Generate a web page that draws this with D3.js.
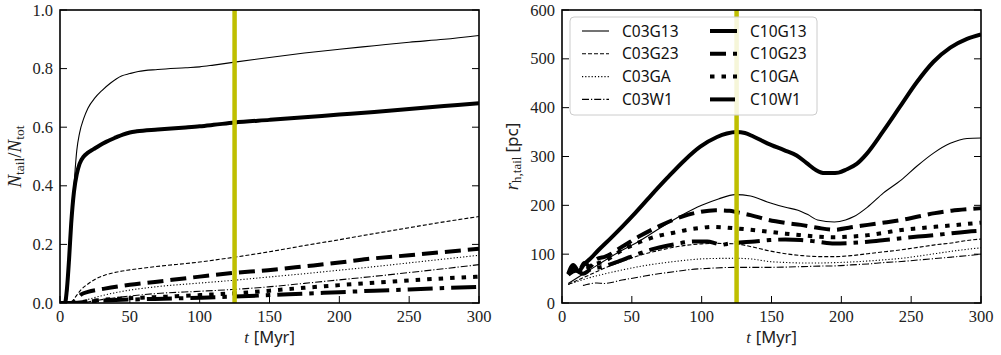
<!DOCTYPE html>
<html>
<head>
<meta charset="utf-8">
<script src="https://cdn.jsdelivr.net/npm/d3@7/dist/d3.min.js"></script>
<style>
  body { margin: 0; background: #fff; }
  .tick-label { font-family: "Liberation Serif", serif; font-size: 16.5px; fill: #222; }
  .leg-text { font-family: "Noto Sans", sans-serif; font-size: 15.5px; fill: #111; }
</style>
</head>
<body>
<div id="chart"></div>
<script>
// models, in legend order
var models = ["C03G13", "C03G23", "C03GA", "C03W1", "C10G13", "C10G23", "C10GA", "C10W1"];

// left panel: N_tail / N_tot against t [Myr]
var frac_C03G13 = [[0,0],[4.5,0],[6,0.08],[8,0.25],[10,0.4],[12,0.52],[14,0.58],[17,0.63],[20,0.665],[25,0.7],[30,0.725],[36,0.75],[44,0.775],[50,0.783],[56,0.79],[70,0.797],[90,0.803],[100,0.806],[110,0.812],[125,0.822],[150,0.838],[175,0.853],[200,0.866],[225,0.878],[250,0.89],[275,0.9],[300,0.913]];
var frac_C03G23 = [[0,0],[8,0],[11,0.02],[15,0.045],[20,0.065],[26,0.083],[32,0.095],[40,0.105],[50,0.113],[68,0.124],[100,0.14],[123,0.155],[150,0.175],[175,0.196],[200,0.216],[225,0.237],[250,0.257],[275,0.277],[300,0.295]];
var frac_C03GA  = [[0,0],[12,0],[20,0.012],[30,0.025],[45,0.04],[68,0.055],[100,0.068],[123,0.077],[150,0.089],[175,0.1],[200,0.112],[225,0.124],[250,0.137],[275,0.15],[300,0.163]];
var frac_C03W1  = [[0,0],[15,0],[25,0.008],[40,0.018],[68,0.032],[100,0.04],[123,0.046],[149,0.055],[175,0.067],[200,0.079],[225,0.091],[250,0.104],[275,0.117],[300,0.131]];
var frac_C10G13 = [[0,0],[3.5,0],[5,0.05],[6.5,0.15],[8,0.27],[10,0.38],[12,0.44],[14,0.475],[17,0.5],[20,0.513],[24,0.525],[28,0.537],[33,0.55],[40,0.565],[45,0.575],[50,0.582],[55,0.586],[70,0.592],[90,0.599],[100,0.603],[110,0.608],[125,0.616],[150,0.625],[175,0.634],[200,0.643],[225,0.652],[250,0.662],[275,0.672],[300,0.682]];
var frac_C10G23 = [[0,0],[8,0],[12,0.015],[15.5,0.03],[20,0.038],[32,0.049],[50,0.062],[68,0.072],[100,0.09],[123,0.102],[149,0.112],[175,0.125],[200,0.138],[220,0.15],[250,0.163],[275,0.174],[300,0.185]];
var frac_C10GA  = [[0,0],[10,0],[20,0.006],[40,0.014],[68,0.02],[100,0.027],[125,0.033],[150,0.042],[175,0.052],[200,0.061],[225,0.069],[250,0.077],[275,0.084],[300,0.09]];
var frac_C10W1  = [[0,0],[10,0],[20,0.005],[40,0.01],[68,0.014],[100,0.018],[125,0.022],[150,0.027],[175,0.032],[200,0.037],[225,0.042],[250,0.046],[275,0.051],[300,0.055]];

// right panel: r_h,tail [pc] against t [Myr]
var rh_C03G13 = [[4.5,40],[20,68],[43,108],[55,126],[70,153],[86,180],[100,200],[112,213],[124,222],[135,219],[147,207],[160,196],[169,190],[176,181],[183,170],[195,166],[203,170],[209,177],[219,197],[230,225],[243,252],[254,280],[266,307],[278,327],[290,337],[300,338]];
var rh_C03G23 = [[4.5,38],[20,58],[31,72],[43,85],[55,97],[70,108],[86,117],[100,121],[112,122],[124,121],[136,115],[148,107],[160,101],[172,97],[184,95],[195,95],[207,97],[219,101],[231,105],[243,109],[255,114],[267,119],[279,123],[290,128],[300,131]];
var rh_C03GA  = [[4.5,38],[20,52],[43,67.6],[60,77],[75,83],[90,88],[105,91],[124,91.5],[136,90],[148,85],[160,83],[172,82],[184,82],[195,82.6],[207,84],[219,86],[231,88.5],[243,91.5],[255,96],[267,101],[279,106],[290,110],[300,113]];
var rh_C03W1  = [[15,36],[16.5,37],[25,41],[30,40],[43,47],[55,53],[67,59],[80,64],[90,68],[105,71],[124,73],[136,73],[148,73],[160,73.5],[172,74.5],[184,75.5],[195,76],[207,78],[219,80],[231,83],[243,85],[255,88],[267,91],[279,94],[290,97],[300,100]];
var rh_C10G13 = [[4.5,58],[8,72],[12,66],[16,80],[20,90],[26,108],[35,133],[43,156],[51,180],[63,218],[75,255],[88,293],[99,320],[111,340],[118,347],[125,350],[131,348],[137,341],[147,327],[159,313],[168,302],[175,287],[182,272],[188,266],[193,266],[198,267],[204,274],[211,285],[218,305],[230,352],[242,402],[254,452],[266,494],[278,523],[290,541],[300,550]];
var rh_C10G23 = [[4.5,60],[8,78],[12,65],[16,82],[20,75],[25,90],[31,95],[43,115],[55,136],[70,158],[86,177],[98,186],[110,190],[120,189],[125,186],[135,180],[148,170],[160,164],[171,160],[183,154],[195,150],[207,155],[219,160],[231,165],[243,170],[255,177],[267,184],[279,189],[290,192],[300,194]];
var rh_C10GA  = [[4.5,60],[10,70],[15,62],[20,75],[30,85],[43,108],[55,124],[67,136],[80,144],[90,150],[100,154],[107,156],[115,155],[124,153],[135,150],[148,146],[160,142],[171,139],[183,136],[195,134.5],[207,136],[219,139],[231,144],[243,149.5],[255,153],[267,156],[279,159],[290,162],[300,164.5]];
var rh_C10W1  = [[4.5,58],[10,66],[15,60],[20,68],[30,75],[43,88],[55,101],[67,112],[80,120],[95,126],[104,126],[110,122],[114,119],[118,121],[124,123],[138,126],[149,129],[160,130],[171,129],[183,125.6],[195,122],[207,123],[219,125.6],[231,129],[243,132.5],[255,136],[267,139],[279,143],[290,146],[300,148]];

// axis ticks
var tTicks = [0, 50, 100, 150, 200, 250, 300];
var fracTicks = [0.0, 0.2, 0.4, 0.6, 0.8, 1.0];
var rhTicks = [0, 100, 200, 300, 400, 500, 600];

// time of the marked snapshot
var markTime = 125;

var fracSeries = [frac_C03G13, frac_C03G23, frac_C03GA, frac_C03W1, frac_C10G13, frac_C10G23, frac_C10GA, frac_C10W1];
var rhSeries = [rh_C03G13, rh_C03G23, rh_C03GA, rh_C03W1, rh_C10G13, rh_C10G23, rh_C10GA, rh_C10W1];

// line style from model name: C03 thin / C10 thick, tidal model sets the dash
function lineStyle(name) {
    var thick = name.indexOf("C10") === 0;
    var kind = name.slice(3);
    var dash;
    if (kind === "G13") dash = null;
    else if (kind === "G23") dash = thick ? "16,7" : "4,2";
    else if (kind === "GA") dash = thick ? "4.5,7" : "1.2,2";
    else dash = thick ? "25,7,4.5,7" : "7,2,1.2,2";
    return { width: thick ? 4 : 1.1, dash: dash };
}

var W = 1001, H = 355;
var svg = d3.select("#chart").append("svg")
    .attr("width", W)
    .attr("height", H);

function drawPanel(opts) {
    var left = opts.left, right = opts.right, top = 10, bottom = 303;

    var x = d3.scaleLinear().domain([0, 300]).range([left, right]);
    var y = d3.scaleLinear().domain(opts.yDomain).range([bottom, top]);

    var clipId = "clip-" + opts.id;
    svg.append("clipPath").attr("id", clipId)
        .append("rect")
        .attr("x", left).attr("y", top)
        .attr("width", right - left).attr("height", bottom - top);

    var g = svg.append("g");

    // curves
    var line = d3.line()
        .x(function(d) { return x(d[0]); })
        .y(function(d) { return y(d[1]); })
        .curve(d3.curveMonotoneX);

    var lines = g.append("g").attr("clip-path", "url(#" + clipId + ")");
    opts.series.forEach(function(s, i) {
        var st = lineStyle(models[i]);
        lines.append("path")
            .attr("d", line(s))
            .attr("fill", "none")
            .attr("stroke", "#000")
            .attr("stroke-width", st.width)
            .attr("stroke-linejoin", "round")
            .attr("stroke-dasharray", st.dash);
    });

    // vertical marker
    g.append("line")
        .attr("x1", x(markTime)).attr("x2", x(markTime))
        .attr("y1", top).attr("y2", bottom)
        .attr("stroke", "#bfbf00")
        .attr("stroke-width", 4.5);

    // inward ticks: bottom, left, right
    var tk = g.append("g").attr("stroke", "#000").attr("stroke-width", 1);
    tTicks.forEach(function(t) {
        tk.append("line").attr("x1", x(t)).attr("x2", x(t)).attr("y1", bottom).attr("y2", bottom - 7);
    });
    opts.yTicks.forEach(function(v) {
        tk.append("line").attr("x1", left).attr("x2", left + 7).attr("y1", y(v)).attr("y2", y(v));
        tk.append("line").attr("x1", right).attr("x2", right - 7).attr("y1", y(v)).attr("y2", y(v));
    });

    // frame
    g.append("rect")
        .attr("x", left).attr("y", top)
        .attr("width", right - left).attr("height", bottom - top)
        .attr("fill", "none")
        .attr("stroke", "#000")
        .attr("stroke-width", 1.6);

    // tick labels
    tTicks.forEach(function(t) {
        g.append("text").attr("class", "tick-label")
            .attr("x", x(t)).attr("y", 322)
            .attr("text-anchor", "middle")
            .text(t);
    });
    opts.yTicks.forEach(function(v) {
        g.append("text").attr("class", "tick-label")
            .attr("x", left - 7).attr("y", y(v) + 5.5)
            .attr("text-anchor", "end")
            .text(opts.yFormat(v));
    });

    // x label
    var xl = g.append("text")
        .attr("x", (left + right) / 2).attr("y", 343)
        .attr("text-anchor", "middle")
        .attr("font-size", "16.5px")
        .attr("fill", "#222");
    xl.append("tspan").attr("font-family", "Liberation Serif, serif").attr("font-style", "italic").text("t");
    xl.append("tspan").attr("font-family", "Noto Sans, sans-serif").attr("dx", 5).text("[Myr]");

    // y label
    var yl = g.append("text")
        .attr("transform", "translate(" + opts.yLabelX + "," + ((top + bottom) / 2) + ") rotate(-90)")
        .attr("text-anchor", "middle")
        .attr("font-size", "19px")
        .attr("fill", "#222");
    opts.yLabel(yl);

    return { x: x, y: y };
}

drawPanel({
    id: "frac", left: 60, right: 479,
    yDomain: [0, 1], yTicks: fracTicks,
    yFormat: d3.format(".1f"),
    series: fracSeries,
    yLabelX: 21,
    yLabel: function(t) {
        t.append("tspan").attr("font-family", "Liberation Serif, serif").attr("font-style", "italic").text("N");
        t.append("tspan").attr("font-family", "Liberation Serif, serif").attr("font-size", "13.5px").attr("dy", 3).text("tail");
        t.append("tspan").attr("font-family", "Liberation Serif, serif").attr("dy", -3).text("/");
        t.append("tspan").attr("font-family", "Liberation Serif, serif").attr("font-style", "italic").text("N");
        t.append("tspan").attr("font-family", "Liberation Serif, serif").attr("font-size", "13.5px").attr("dy", 3).text("tot");
    }
});

drawPanel({
    id: "rh", left: 562, right: 981,
    yDomain: [0, 600], yTicks: rhTicks,
    yFormat: d3.format("d"),
    series: rhSeries,
    yLabelX: 518,
    yLabel: function(t) {
        t.append("tspan").attr("font-family", "Liberation Serif, serif").attr("font-style", "italic").text("r");
        t.append("tspan").attr("font-family", "Liberation Serif, serif").attr("font-size", "13px").attr("dy", 3).text("h,tail");
        t.append("tspan").attr("font-family", "Noto Sans, sans-serif").attr("font-size", "17px").attr("dy", -3).attr("dx", 4).text("[pc]");
    }
});

// legend, two columns (C03 left, C10 right)
var legend = svg.append("g");
legend.append("rect")
    .attr("x", 570).attr("y", 17)
    .attr("width", 247).attr("height", 98)
    .attr("rx", 4)
    .attr("fill", "#fff").attr("fill-opacity", 0.85)
    .attr("stroke", "#ccc").attr("stroke-width", 1);

models.forEach(function(name, i) {
    var col = Math.floor(i / 4), row = i % 4;
    var lx = col === 0 ? 582 : 710;
    var ly = 31 + row * 22.8;
    var st = lineStyle(name);
    legend.append("line")
        .attr("x1", lx).attr("x2", lx + 27)
        .attr("y1", ly).attr("y2", ly)
        .attr("stroke", "#000")
        .attr("stroke-width", st.width)
        .attr("stroke-dasharray", st.dash);
    legend.append("text").attr("class", "leg-text")
        .attr("x", lx + 40).attr("y", ly + 5.5)
        .text(name);
});
</script>
</body>
</html>
